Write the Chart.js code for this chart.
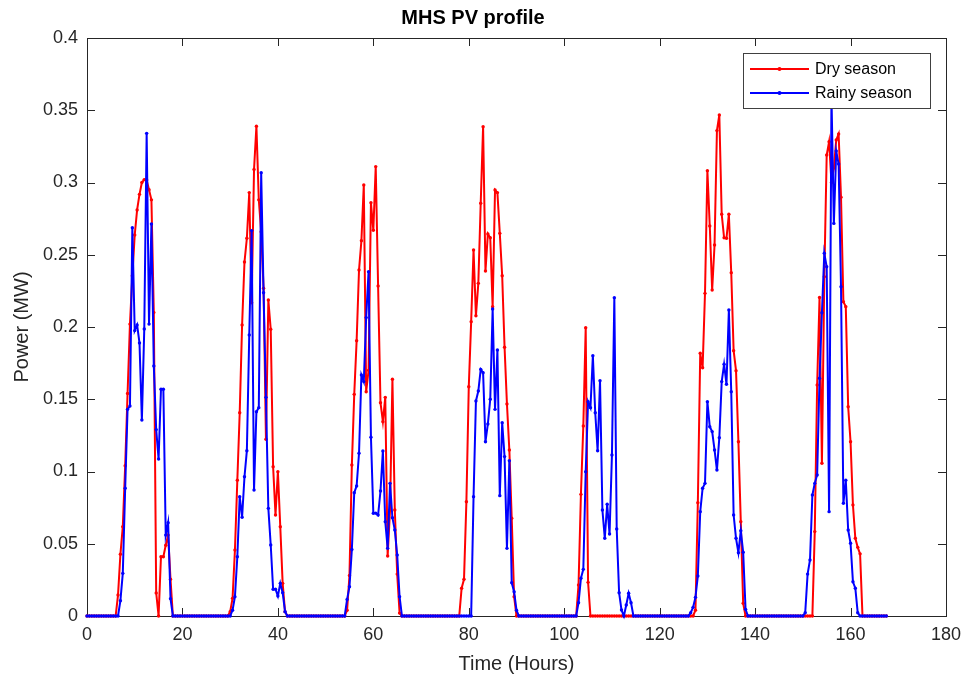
<!DOCTYPE html>
<html lang="en">
<head>
    <meta charset="UTF-8">
    <title>MHS PV profile</title>
    <script src="https://cdn.jsdelivr.net/npm/chart.js@4.4.0/dist/chart.umd.min.js"></script>
    <style>
        body { margin: 0; background: #fff; }
        #wrap { width: 964px; height: 678px; }
    </style>
</head>
<body>
<div id="wrap"><canvas id="pvChart"></canvas></div>
<script>
    // half-hourly samples, hours 0 .. 167.5, everything outside the day blocks is 0
    var stepHours = 0.5;
    var lastHour = 167.5;
    var seriesNames = ['Dry season', 'Rainy season'];

    // dry season: start hour of each day block + values (MW)
    var dryStarts = [6.5, 30, 54.5, 78.5, 103, 127.5, 152.5];
    var dryDay1 = [0.0145, 0.0427, 0.0618, 0.104, 0.154, 0.202, 0.2355, 0.2637, 0.281, 0.2918, 0.300, 0.302, 0.3017, 0.295, 0.288, 0.21, 0.016, 0, 0.041, 0.041, 0.049, 0.056, 0.0254];
    var dryDay2 = [0.003, 0.0122, 0.0457, 0.094, 0.1407, 0.2014, 0.245, 0.2614, 0.293, 0.2168, 0.309, 0.339, 0.288, 0.266, 0.2268, 0.1223, 0.2187, 0.1984, 0.1033, 0.0699, 0.0999, 0.0618, 0.0226, 0.003];
    var dryDay3 = [0.004, 0.028, 0.1045, 0.1534, 0.1905, 0.2394, 0.2597, 0.2983, 0.1552, 0.17, 0.286, 0.267, 0.311, 0.2284, 0.1476, 0.1345, 0.1513, 0.0415, 0.0734, 0.1638, 0.0734, 0.029, 0.002];
    var dryDay4 = [0.0192, 0.0254, 0.0791, 0.1587, 0.2037, 0.2533, 0.2078, 0.2302, 0.2856, 0.3386, 0.2388, 0.2644, 0.2618, 0.214, 0.2948, 0.293, 0.2648, 0.2355, 0.186, 0.1467, 0.1149, 0.0676, 0.0134];
    var dryDay5 = [0.0215, 0.0842, 0.1315, 0.1995, 0.0233];
    var dryDay6 = [0.004, 0.0784, 0.1818, 0.1718, 0.2233, 0.3082, 0.2699, 0.2256, 0.2567, 0.3359, 0.3467, 0.278, 0.2618, 0.2614, 0.278, 0.2376, 0.1836, 0.1698, 0.1206, 0.0653, 0.0088];
    var dryDay7 = [0.0584, 0.1599, 0.2205, 0.1057, 0.2348, 0.319, 0.3282, 0.30, 0.31, 0.3294, 0.3336, 0.2898, 0.2175, 0.2141, 0.1448, 0.1206, 0.0768, 0.0538, 0.0475, 0.043];

    // rainy season
    var rainyStarts = [7, 30.5, 54.5, 81, 103, 126.5, 150.5];
    var rainyDay1 = [0.0106, 0.0295, 0.0884, 0.143, 0.1453, 0.2687, 0.1975, 0.2014, 0.189, 0.1356, 0.1986, 0.334, 0.202, 0.2713, 0.173, 0.129, 0.1087, 0.157, 0.157, 0.056, 0.0646, 0.012];
    var rainyDay2 = [0.004, 0.0134, 0.041, 0.0826, 0.0683, 0.0964, 0.1144, 0.1945, 0.2667, 0.0872, 0.1414, 0.1442, 0.3068, 0.2237, 0.1513, 0.0745, 0.0491, 0.0185, 0.0185, 0.0138, 0.0226, 0.0161, 0.003];
    var rainyDay3 = [0.0115, 0.0203, 0.046, 0.0853, 0.09, 0.1126, 0.1668, 0.1622, 0.2065, 0.2383, 0.1237, 0.0711, 0.0712, 0.0699, 0.0865, 0.1142, 0.0653, 0.0468, 0.0918, 0.068, 0.0595, 0.0422, 0.0134];
    var rainyDay4 = [0.0826, 0.1488, 0.1557, 0.1707, 0.1684, 0.1206, 0.1329, 0.15, 0.2125, 0.143, 0.1841, 0.0833, 0.1338, 0.1103, 0.0468, 0.1075, 0.023, 0.0168, 0.004];
    var rainyDay5 = [0.0092, 0.0261, 0.0323, 0.0999, 0.1483, 0.1442, 0.1801, 0.1407, 0.1144, 0.1628, 0.0734, 0.0538, 0.0773, 0.0567, 0.1114, 0.2203, 0.0602, 0.0161, 0.0042, 0, 0.0076, 0.0157, 0.0092];
    var rainyDay6 = [0.0023, 0.006, 0.0129, 0.0277, 0.0722, 0.0884, 0.0918, 0.1483, 0.131, 0.1276, 0.1149, 0.101, 0.1234, 0.1622, 0.1742, 0.1604, 0.2118, 0.1552, 0.0699, 0.0538, 0.0438, 0.059, 0.0441, 0.0046];
    var rainyDay7 = [0.0023, 0.029, 0.0388, 0.0837, 0.0918, 0.0976, 0.1645, 0.2099, 0.251, 0.2417, 0.0722, 0.36, 0.2717, 0.3218, 0.3128, 0.2279, 0.078, 0.094, 0.0595, 0.0503, 0.0237, 0.0192, 0.0023];

    var xTicks = [0, 20, 40, 60, 80, 100, 120, 140, 160, 180];
    var yTicks = [0, 0.05, 0.1, 0.15, 0.2, 0.25, 0.3, 0.35, 0.4];

    function buildSeries(starts, days) {
        var n = Math.round(lastHour / stepHours) + 1;
        var vals = [];
        for (var i = 0; i < n; i++) vals.push(0);
        for (var d = 0; d < days.length; d++) {
            var i0 = Math.round(starts[d] / stepHours);
            for (var k = 0; k < days[d].length; k++) vals[i0 + k] = days[d][k];
        }
        var pts = [];
        for (var j = 0; j < n; j++) pts.push({x: j * stepHours, y: vals[j]});
        return pts;
    }

    var dryData = buildSeries(dryStarts, [dryDay1, dryDay2, dryDay3, dryDay4, dryDay5, dryDay6, dryDay7]);
    var rainyData = buildSeries(rainyStarts, [rainyDay1, rainyDay2, rainyDay3, rainyDay4, rainyDay5, rainyDay6, rainyDay7]);

    var axisColor = '#262626';
    var fontName = '"Liberation Sans", Arial, sans-serif';
    var colors = ['#ff0000', '#0000ff'];

    // matlab style box with inward ticks on all four sides
    var boxPlugin = {
        id: 'matlabBox',
        beforeDatasetsDraw: function (chart) {
            var ctx = chart.ctx, a = chart.chartArea;
            var xs = chart.scales.x, ys = chart.scales.y;
            var tl = 8;
            ctx.save();
            ctx.strokeStyle = axisColor;
            ctx.lineWidth = 1;
            ctx.beginPath();
            xTicks.forEach(function (t) {
                var px = Math.round(xs.getPixelForValue(t)) + 0.5;
                ctx.moveTo(px, a.bottom); ctx.lineTo(px, a.bottom - tl);
                ctx.moveTo(px, a.top); ctx.lineTo(px, a.top + tl);
            });
            yTicks.forEach(function (t) {
                var py = Math.round(ys.getPixelForValue(t)) + 0.5;
                ctx.moveTo(a.left, py); ctx.lineTo(a.left + tl, py);
                ctx.moveTo(a.right, py); ctx.lineTo(a.right - tl, py);
            });
            ctx.stroke();
            ctx.strokeRect(Math.round(a.left) + 0.5, Math.round(a.top) + 0.5,
                Math.round(a.right - a.left), Math.round(a.bottom - a.top));
            ctx.restore();
        },
        afterDraw: function (chart) {
            var ctx = chart.ctx;
            var bx = 743, by = 53, bw = 187, bh = 55;
            ctx.save();
            ctx.fillStyle = '#fff';
            ctx.fillRect(bx, by, bw, bh);
            ctx.strokeStyle = '#404040';
            ctx.lineWidth = 1;
            ctx.strokeRect(bx + 0.5, by + 0.5, bw, bh);
            ctx.font = '16px ' + fontName;
            ctx.textBaseline = 'middle';
            ctx.textAlign = 'left';
            for (var i = 0; i < seriesNames.length; i++) {
                var ly = by + 16 + i * 24;
                ctx.strokeStyle = colors[i];
                ctx.lineWidth = 2;
                ctx.beginPath();
                ctx.moveTo(750, ly); ctx.lineTo(809, ly);
                ctx.stroke();
                ctx.fillStyle = colors[i];
                ctx.beginPath();
                ctx.arc(779.5, ly, 2, 0, Math.PI * 2);
                ctx.fill();
                ctx.fillStyle = '#000';
                ctx.fillText(seriesNames[i], 815, ly + 1);
            }
            ctx.restore();
        }
    };

    window.onload = function () {
        var ctx = document.getElementById('pvChart');
        new Chart(ctx, {
            type: 'line',
            data: {
                datasets: [{
                    label: seriesNames[0],
                    data: dryData,
                    borderColor: colors[0],
                    backgroundColor: colors[0],
                    borderWidth: 2,
                    pointRadius: 1.7,
                    pointBorderWidth: 0,
                    fill: false,
                    tension: 0,
                    clip: 4,
                    order: 2
                }, {
                    label: seriesNames[1],
                    data: rainyData,
                    borderColor: colors[1],
                    backgroundColor: colors[1],
                    borderWidth: 2,
                    pointRadius: 1.7,
                    pointBorderWidth: 0,
                    fill: false,
                    tension: 0,
                    clip: 4,
                    order: 1
                }]
            },
            options: {
                responsive: true,
                maintainAspectRatio: false,
                animation: false,
                layout: { padding: { left: 0, right: 18, top: 0, bottom: 0 } },
                plugins: {
                    legend: { display: false },
                    tooltip: { enabled: false },
                    title: {
                        display: true,
                        text: 'MHS PV profile',
                        color: '#000',
                        font: { family: fontName, size: 20, weight: 'bold' },
                        padding: { top: 6, bottom: 8 }
                    }
                },
                scales: {
                    x: {
                        type: 'linear',
                        min: 0,
                        max: 180,
                        grid: { display: false, drawTicks: false },
                        border: { display: false },
                        afterFit: function (s) { s.height = 62; s.paddingLeft = 0; s.paddingRight = 0; },
                        afterBuildTicks: function (s) { s.ticks = xTicks.map(function (v) { return {value: v}; }); },
                        ticks: {
                            color: axisColor,
                            padding: 8,
                            maxRotation: 0,
                            font: { family: fontName, size: 18 }
                        },
                        title: {
                            display: true,
                            text: 'Time (Hours)',
                            color: axisColor,
                            font: { family: fontName, size: 20 },
                            padding: { top: 0, bottom: 2 }
                        }
                    },
                    y: {
                        min: 0,
                        max: 0.4,
                        grid: { display: false, drawTicks: false },
                        border: { display: false },
                        afterFit: function (s) { s.width = 87; s.paddingTop = 0; s.paddingBottom = 0; },
                        afterBuildTicks: function (s) { s.ticks = yTicks.map(function (v) { return {value: v}; }); },
                        ticks: {
                            color: axisColor,
                            padding: 9,
                            font: { family: fontName, size: 18 },
                            callback: function (v) { return String(+v.toFixed(2)); }
                        },
                        title: {
                            display: true,
                            text: 'Power (MW)',
                            color: axisColor,
                            font: { family: fontName, size: 20 },
                            padding: { top: 10, bottom: 0 }
                        }
                    }
                }
            },
            plugins: [boxPlugin]
        });
    };
</script>
</body>
</html>
